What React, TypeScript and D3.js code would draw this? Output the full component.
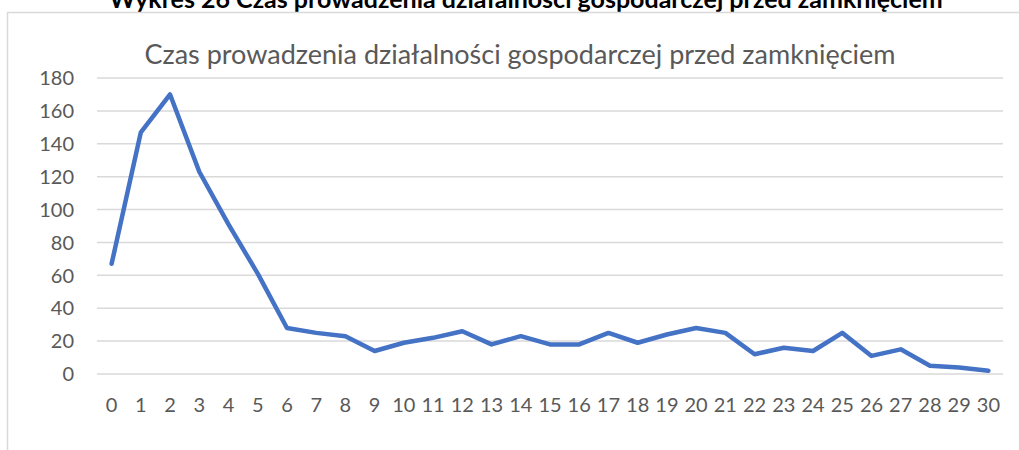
import React, { useEffect, useRef } from 'react';
import * as d3 from 'd3';

const categories = [
  '0', '1', '2', '3', '4', '5', '6', '7', '8', '9', '10', '11', '12', '13', '14', '15',
  '16', '17', '18', '19', '20', '21', '22', '23', '24', '25', '26', '27', '28', '29', '30',
];
const values = [
  67, 147, 170, 123, 91, 61, 28, 25, 23, 14, 19, 22, 26, 18, 23, 18,
  18, 25, 19, 24, 28, 25, 12, 16, 14, 25, 11, 15, 5, 4, 2,
];
const yTicks = [0, 20, 40, 60, 80, 100, 120, 140, 160, 180];
const pageTitle = 'Wykres 26 Czas prowadzenia działalności gospodarczej przed zamknięciem';
const chartTitle = 'Czas prowadzenia działalności gospodarczej przed zamknięciem';

const W = 1019;
const H = 450;

export default function App() {
  const ref = useRef<SVGSVGElement>(null);

  useEffect(() => {
    const svg = d3.select(ref.current);
    svg.selectAll('*').remove();

    const margin = { top: 78, right: 16, bottom: 76, left: 97 };
    const x = d3
      .scaleBand()
      .domain(categories)
      .range([margin.left, W - margin.right]);
    const y = d3
      .scaleLinear()
      .domain([0, 180])
      .range([H - margin.bottom, margin.top]);

    const font = 'Lato, "Open Sans", sans-serif';

    // page caption, cut at the top
    svg
      .append('text')
      .attr('x', 526)
      .attr('y', 8)
      .attr('text-anchor', 'middle')
      .style('font-family', font)
      .style('font-weight', 'bold')
      .style('font-size', '25px')
      .style('fill', '#000')
      .text(pageTitle);

    // chart frame
    svg
      .append('rect')
      .attr('x', 7.5)
      .attr('y', 12.5)
      .attr('width', W + 10)
      .attr('height', H)
      .style('fill', '#fff')
      .style('stroke', '#d9d9d9')
      .style('stroke-width', 1.5);

    svg
      .append('text')
      .attr('x', 520)
      .attr('y', 64)
      .attr('text-anchor', 'middle')
      .style('font-family', font)
      .style('font-size', '27px')
      .style('fill', '#595959')
      .text(chartTitle);

    // gridlines
    svg
      .append('g')
      .selectAll('line')
      .data(yTicks)
      .enter()
      .append('line')
      .attr('x1', margin.left)
      .attr('x2', W - margin.right)
      .attr('y1', (d) => y(d))
      .attr('y2', (d) => y(d))
      .style('stroke', '#d9d9d9')
      .style('stroke-width', 1.5);

    // y labels
    svg
      .append('g')
      .selectAll('text')
      .data(yTicks)
      .enter()
      .append('text')
      .attr('x', 74)
      .attr('y', (d) => y(d))
      .attr('dy', '0.36em')
      .attr('text-anchor', 'end')
      .style('font-family', font)
      .style('font-size', '20px')
      .style('fill', '#595959')
      .text((d) => d);

    // x labels
    svg
      .append('g')
      .selectAll('text')
      .data(categories)
      .enter()
      .append('text')
      .attr('x', (d) => x(d)! + x.bandwidth() / 2)
      .attr('y', y(0) + 31)
      .attr('dy', '0.36em')
      .attr('text-anchor', 'middle')
      .style('font-family', font)
      .style('font-size', '20px')
      .style('fill', '#595959')
      .text((d) => d);

    const line = d3
      .line<number>()
      .x((d, i) => x(categories[i])! + x.bandwidth() / 2)
      .y((d) => y(d));

    svg
      .append('path')
      .datum(values)
      .attr('d', line)
      .style('fill', 'none')
      .style('stroke', '#4472c4')
      .style('stroke-width', 4.5)
      .style('stroke-linejoin', 'round')
      .style('stroke-linecap', 'round');
  }, []);

  return (
    <svg
      ref={ref}
      width={W}
      height={H}
      style={{ position: 'absolute', left: 0, top: 0, background: '#fff' }}
    />
  );
}
